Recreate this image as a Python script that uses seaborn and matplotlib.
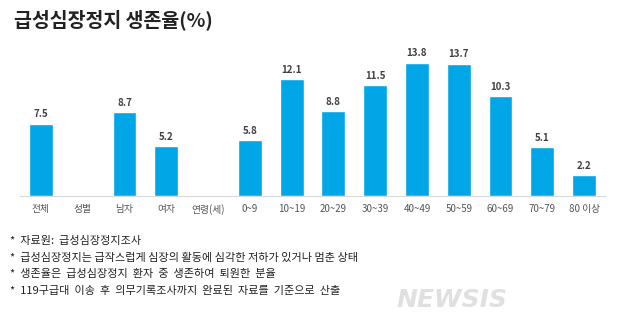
import numpy as np
import pandas as pd
import matplotlib
matplotlib.use("Agg")
import matplotlib.pyplot as plt
import seaborn as sns

categories = ["전체", "성별", "남자", "여자", "연령(세)", "0~9", "10~19", "20~29",
              "30~39", "40~49", "50~59", "60~69", "70~79", "80 이상"]
values = [7.5, np.nan, 8.7, 5.2, np.nan, 5.8, 12.1, 8.8, 11.5, 13.8, 13.7, 10.3, 5.1, 2.2]
title = "급성심장정지 생존율(%)"
notes = [
    "*  자료원:  급성심장정지조사",
    "*  급성심장정지는 급작스럽게 심장의 활동에 심각한 저하가 있거나 멈춘 상태",
    "*  생존율은  급성심장정지  환자  중  생존하여  퇴원한  분율",
    "*  119구급대  이송  후  의무기록조사까지  완료된  자료를  기준으로  산출",
]

sns.set_theme(style="white")
plt.rcParams['font.family'] = ['Noto Sans CJK KR', 'DejaVu Sans']

df = pd.DataFrame({"cat": categories, "val": values})

fig = plt.figure(figsize=(6.31, 3.34), dpi=100)
ax = fig.add_axes([20/631, 138/334, 585/631, 145/334])
sns.barplot(data=df, x="cat", y="val", order=categories, color="#00A6E6",
            saturation=1, width=0.57, ax=ax, errorbar=None)
ax.set_xlim(-0.5, 13.5)
ax.set_ylim(0, 15)
for i, v in enumerate(values):
    if not np.isnan(v):
        ax.annotate(f"{v}", (i, v), xytext=(0, 3), textcoords="offset points",
                    ha="center", va="bottom", fontsize=7, color="#404040",
                    fontweight="bold")
ax.set_xlabel("")
ax.set_ylabel("")
ax.set_yticks([])
ax.tick_params(axis="x", length=0, pad=6, labelsize=7, labelcolor="#555555")
for s in ["top", "right", "left"]:
    ax.spines[s].set_visible(False)
ax.spines["bottom"].set_color("#d9d9d9")
ax.spines["bottom"].set_linewidth(0.8)

fig.text(14/631, 1 - 20/334, title, fontsize=14, fontweight="bold",
         color="#222222", va="center", ha="left")

ys = [241, 258, 274, 291]
for t, y in zip(notes, ys):
    fig.text(10/631, 1 - y/334, t, fontsize=8, color="#222222", va="center", ha="left")

fig.text(452/631, 1 - 300/334, "NEWSIS", fontsize=18, fontweight="bold",
         fontstyle="italic", color="#e0e0e0", va="center", ha="center",
         family="DejaVu Sans")

fig.savefig("out.png", dpi=100)
